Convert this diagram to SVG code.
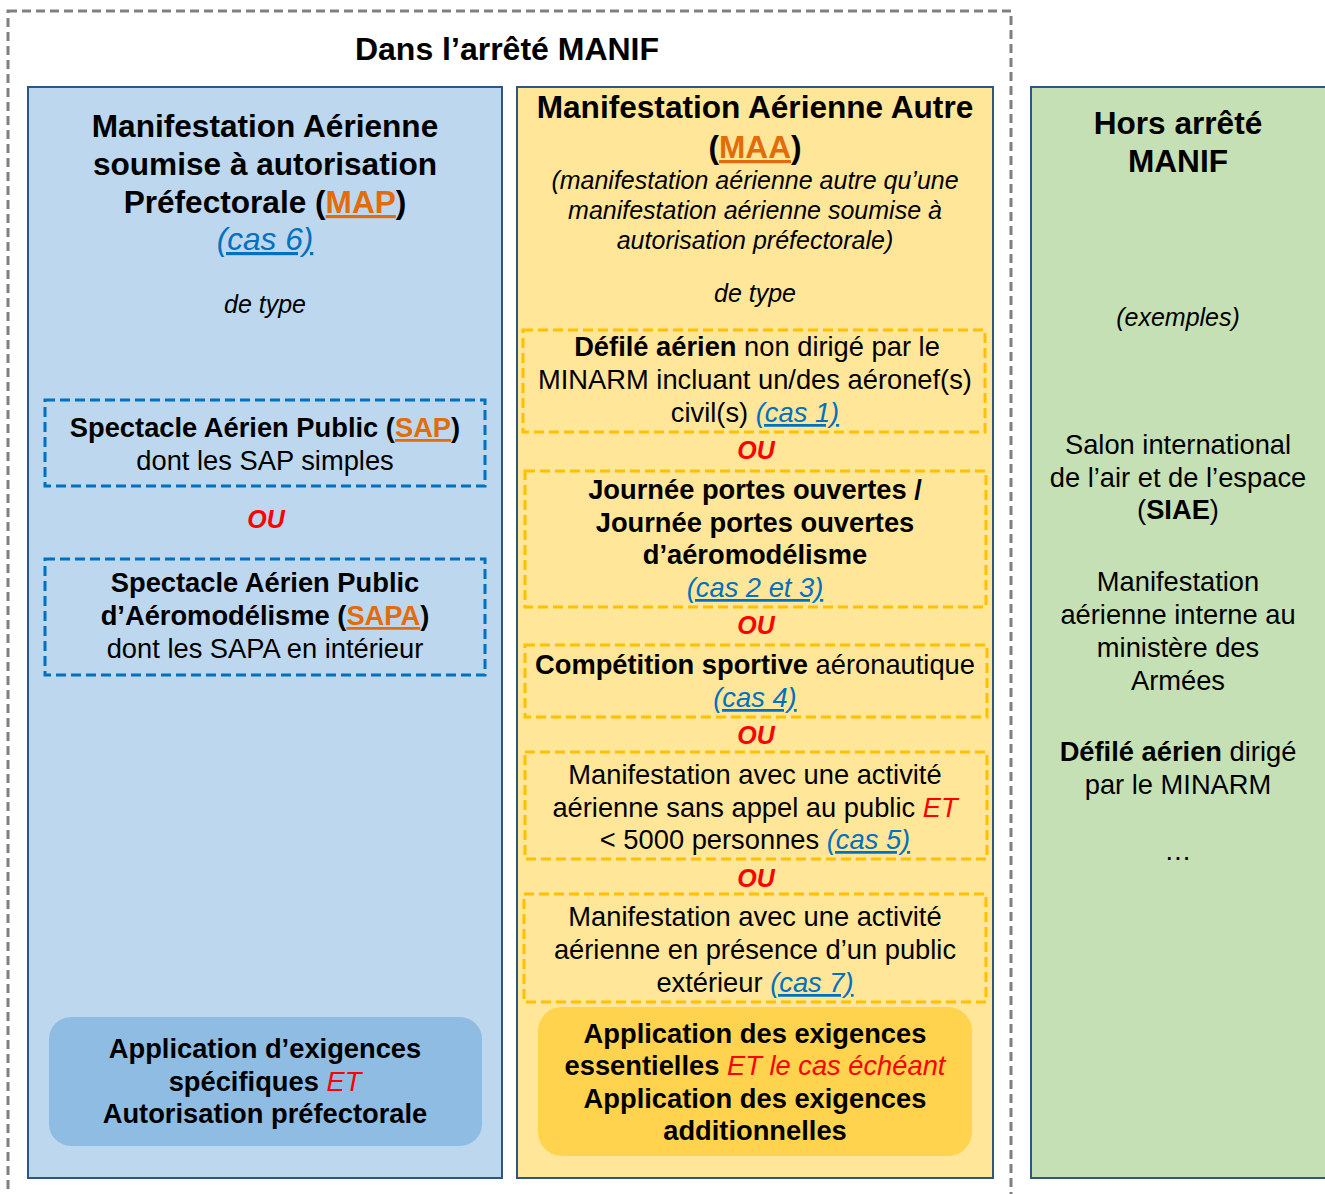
<svg xmlns="http://www.w3.org/2000/svg" width="1325" height="1194" viewBox="0 0 1325 1194">
<style>
text{font-family:"Liberation Sans",Arial,sans-serif;fill:#000;text-anchor:middle}
.h{font-size:31.6px;font-weight:bold}
.t{font-size:32px;font-weight:bold}
.b{font-size:27.3px}
.bb{font-size:27.3px;font-weight:bold}
.i{font-size:25px;font-style:italic}
.ou{font-size:25px;font-weight:bold;font-style:italic;fill:#FF0000}
.or{fill:#E36C0A;text-decoration:underline}
.lk{fill:#0070C0;font-style:italic;font-weight:normal;text-decoration:underline}
.red{fill:#FF0000;font-style:italic;font-weight:normal}
.nb{font-weight:normal}
.bd{font-weight:bold}
.panel{stroke:#2F5680;stroke-width:2}
.dblue{fill:none;stroke:#0070C0;stroke-width:3;stroke-dasharray:10 5}
.dyel{fill:none;stroke:#FFC000;stroke-width:3;stroke-dasharray:10 5}
</style>
<rect width="1325" height="1194" fill="#FFFFFF"/>
<g id="outer">
<rect x="8" y="11" width="1003" height="1210" fill="none" stroke="#808080" stroke-width="3" stroke-dasharray="9 5"/>
<text class="t" x="507" y="60">Dans l’arrêté MANIF</text>
</g>
<g id="connectors"></g>
<g id="map">
<rect class="panel" x="28" y="87" width="474" height="1091" fill="#BDD7EE"/>
<text class="h" x="265" y="137">Manifestation Aérienne</text>
<text class="h" x="265" y="175">soumise à autorisation</text>
<text class="h" x="265" y="213">Préfectorale (<tspan class="or">MAP</tspan>)</text>
<text class="h lk" x="265" y="250">(cas 6)</text>
<text class="i" x="265" y="313">de type</text>
</g>
<g id="sap">
<rect class="dblue" x="45" y="400" width="440" height="86"/>
<text class="bb" x="265" y="437">Spectacle Aérien Public (<tspan class="or">SAP</tspan>)</text>
<text class="b" x="265" y="470">dont les SAP simples</text>
</g>
<text class="ou" x="266" y="528">OU</text>
<g id="sapa">
<rect class="dblue" x="45" y="559" width="440" height="116"/>
<text class="bb" x="265" y="592">Spectacle Aérien Public</text>
<text class="bb" x="265" y="625">d’Aéromodélisme (<tspan class="or">SAPA</tspan>)</text>
<text class="b" x="265" y="658">dont les SAPA en intérieur</text>
</g>
<g id="map-exig">
<rect x="49" y="1017" width="433" height="129" rx="22" fill="#8FBCE3"/>
<text class="bb" x="265" y="1058">Application d’exigences</text>
<text class="bb" x="265" y="1091">spécifiques <tspan class="red">ET</tspan></text>
<text class="bb" x="265" y="1123">Autorisation préfectorale</text>
</g>
<g id="maa">
<rect class="panel" x="517" y="87" width="476" height="1091" fill="#FFE699"/>
<text class="h" x="755" y="118">Manifestation Aérienne Autre</text>
<text class="h" x="755" y="158">(<tspan class="or">MAA</tspan>)</text>
<text class="i" x="755" y="189">(manifestation aérienne autre qu’une</text>
<text class="i" x="755" y="219">manifestation aérienne soumise à</text>
<text class="i" x="755" y="249">autorisation préfectorale)</text>
<text class="i" x="755" y="302">de type</text>
</g>
<g id="cas1">
<rect class="dyel" x="523" y="330" width="462" height="102"/>
<text class="b" x="757" y="356"><tspan class="bd">Défilé aérien</tspan> non dirigé par le</text>
<text class="b" x="755" y="389">MINARM incluant un/des aéronef(s)</text>
<text class="b" x="755" y="422">civil(s) <tspan class="lk">(cas 1)</tspan></text>
</g>
<text class="ou" x="756" y="459">OU</text>
<g id="cas23">
<rect class="dyel" x="525" y="471" width="461" height="136"/>
<text class="bb" x="755" y="499">Journée portes ouvertes /</text>
<text class="bb" x="755" y="532">Journée portes ouvertes</text>
<text class="bb" x="755" y="564">d’aéromodélisme</text>
<text class="b lk" x="755" y="597">(cas 2 et 3)</text>
</g>
<text class="ou" x="756" y="634">OU</text>
<g id="cas4">
<rect class="dyel" x="525" y="645" width="462" height="72"/>
<text class="bb" x="755" y="674">Compétition sportive <tspan class="nb">aéronautique</tspan></text>
<text class="b lk" x="755" y="707">(cas 4)</text>
</g>
<text class="ou" x="756" y="744">OU</text>
<g id="cas5">
<rect class="dyel" x="525" y="752" width="462" height="107"/>
<text class="b" x="755" y="784">Manifestation avec une activité</text>
<text class="b" x="755" y="817">aérienne sans appel au public <tspan class="red">ET</tspan></text>
<text class="b" x="755" y="849">&lt; 5000 personnes <tspan class="lk">(cas 5)</tspan></text>
</g>
<text class="ou" x="756" y="887">OU</text>
<g id="cas7">
<rect class="dyel" x="524" y="894" width="462" height="108"/>
<text class="b" x="755" y="926">Manifestation avec une activité</text>
<text class="b" x="755" y="959">aérienne en présence d’un public</text>
<text class="b" x="755" y="992">extérieur <tspan class="lk">(cas 7)</tspan></text>
</g>
<g id="maa-exig">
<rect x="538" y="1007" width="434" height="149" rx="24" fill="#FFD34D"/>
<text class="bb" x="755" y="1043">Application des exigences</text>
<text class="bb" x="755" y="1075">essentielles <tspan class="red">ET le cas échéant</tspan></text>
<text class="bb" x="755" y="1108">Application des exigences</text>
<text class="bb" x="755" y="1140">additionnelles</text>
</g>
<g id="hors">
<rect class="panel" x="1031" y="87" width="310" height="1091" fill="#C5E0B4"/>
<text class="h" x="1178" y="134">Hors arrêté</text>
<text class="h" x="1178" y="172">MANIF</text>
<text class="i" x="1178" y="326">(exemples)</text>
<text class="b" x="1178" y="454">Salon international</text>
<text class="b" x="1178" y="487">de l’air et de l’espace</text>
<text class="b" x="1178" y="519">(<tspan class="bd">SIAE</tspan>)</text>
<text class="b" x="1178" y="591">Manifestation</text>
<text class="b" x="1178" y="624">aérienne interne au</text>
<text class="b" x="1178" y="657">ministère des</text>
<text class="b" x="1178" y="690">Armées</text>
<text class="b" x="1178" y="761"><tspan class="bd">Défilé aérien</tspan> dirigé</text>
<text class="b" x="1178" y="794">par le MINARM</text>
<text class="b" x="1178" y="860">…</text>
</g>
</svg>
